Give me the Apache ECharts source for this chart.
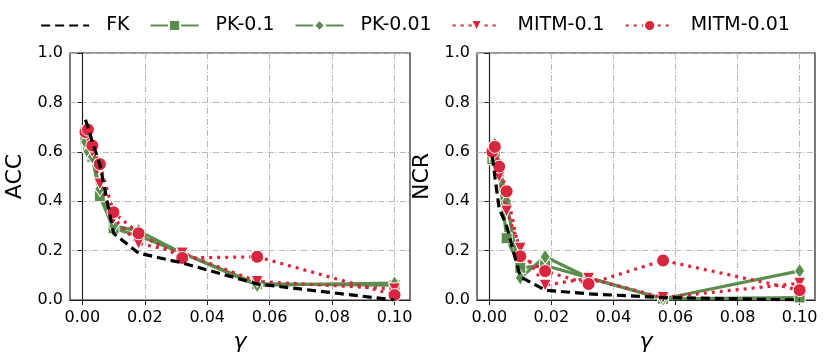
<!DOCTYPE html>
<html>
<head>
<meta charset="utf-8">
<script src="https://cdn.jsdelivr.net/npm/echarts@6/dist/echarts.min.js"></script>
<style>
  html, body { margin: 0; padding: 0; background: #fff; }
  #chart { width: 830px; height: 360px; }
</style>
</head>
<body>
<div id="chart"></div>
<script>
// gamma values (x)
var gammas = [0.001, 0.0018, 0.0032, 0.0056, 0.01, 0.018, 0.032, 0.056, 0.1];
var xTicks = [0, 0.02, 0.04, 0.06, 0.08, 0.1];
var yTicks = [0, 0.2, 0.4, 0.6, 0.8, 1.0];
var seriesNames = ['FK', 'PK-0.1', 'PK-0.01', 'MITM-0.1', 'MITM-0.01'];

// ACC (left panel)
var accFK     = [0.73, 0.70, 0.64, 0.55, 0.27, 0.19, 0.15, 0.065, 0.0];
var accPK1    = [0.65, 0.62, 0.58, 0.42, 0.29, 0.26, 0.19, 0.065, 0.06];
var accPK01   = [0.64, 0.60, 0.58, 0.45, 0.30, 0.28, 0.19, 0.06, 0.068];
var accMITM1  = [0.68, 0.66, 0.60, 0.47, 0.33, 0.23, 0.19, 0.075, 0.045];
var accMITM01 = [0.68, 0.69, 0.625, 0.55, 0.355, 0.27, 0.17, 0.175, 0.02];

// NCR (right panel)
var ncrFK     = [0.58, 0.50, 0.37, 0.30, 0.094, 0.04, 0.025, 0.01, 0.0];
var ncrPK1    = [0.57, 0.58, 0.52, 0.25, 0.13, 0.14, 0.09, 0.005, 0.01];
var ncrPK01   = [0.62, 0.63, 0.55, 0.40, 0.09, 0.175, 0.09, 0.005, 0.118];
var ncrMITM1  = [0.58, 0.60, 0.50, 0.36, 0.21, 0.06, 0.088, 0.01, 0.068];
var ncrMITM01 = [0.60, 0.62, 0.54, 0.44, 0.177, 0.117, 0.065, 0.16, 0.04];

var GREEN = '#5b8e4c', RED = '#d7263d';
var FONT = 'DejaVu Sans';

function pairs(vals) {
  return gammas.map(function (g, i) { return [g, vals[i]]; });
}

var styles = [
  { color: '#000', type: [9, 5], width: 3.2, symbol: 'none', size: 0, z: 5 },
  { color: GREEN, type: 'solid', width: 3.2, symbol: 'rect', size: 11, z: 2 },
  { color: GREEN, type: 'solid', width: 3.2, symbol: 'diamond', size: [10, 15], z: 2 },
  { color: RED, type: [3, 5], width: 3.2, symbol: 'triangle', size: 12, z: 3, rotate: 180 },
  { color: RED, type: [3, 5], width: 3.2, symbol: 'circle', size: 13, z: 3 }
];

function makeSeries(sets, idx) {
  return sets.map(function (vals, i) {
    var s = styles[i];
    return {
      name: seriesNames[i],
      type: 'line',
      xAxisIndex: idx,
      yAxisIndex: idx,
      data: pairs(vals),
      symbol: s.symbol,
      symbolSize: s.size,
      symbolRotate: s.rotate || 0,
      showSymbol: s.symbol !== 'none',
      z: s.z,
      silent: true,
      animation: false,
      lineStyle: { color: s.color, width: s.width, type: s.type },
      itemStyle: { color: s.color, borderColor: '#fff', borderWidth: 1 }
    };
  });
}

var xMin = -0.00395, xMax = 0.10495;
var gridLine = { show: true, lineStyle: { color: '#b8b8b8', type: [6, 2, 1, 2], width: 1 } };

function xAxis(idx) {
  return {
    type: 'value', gridIndex: idx, min: xMin, max: xMax,
    name: 'γ', nameLocation: 'middle', nameGap: 31,
    nameTextStyle: { fontFamily: FONT, fontSize: 22, fontStyle: 'italic', color: '#000' },
    axisLine: { show: true, lineStyle: { color: '#222', width: 1.2 } },
    axisTick: { show: true, length: 5, customValues: xTicks, lineStyle: { color: '#222' } },
    axisLabel: { customValues: xTicks, fontFamily: FONT, fontSize: 16, color: '#000', margin: 10,
      formatter: function (v) { return v.toFixed(2); } },
    splitLine: gridLine
  };
}

function yAxis(idx, name) {
  return {
    type: 'value', gridIndex: idx, min: 0, max: 1, interval: 0.2,
    name: name, nameLocation: 'middle', nameGap: 44, nameRotate: 90,
    nameTextStyle: { fontFamily: FONT, fontSize: 22, color: '#000' },
    axisLine: { show: true, lineStyle: { color: '#222', width: 1.2 } },
    axisTick: { show: true, length: 5, lineStyle: { color: '#222' } },
    axisLabel: { fontFamily: FONT, fontSize: 16, color: '#000', margin: 7,
      formatter: function (v) { return v.toFixed(1); } },
    splitLine: gridLine
  };
}

var chart = echarts.init(document.getElementById('chart'), null, { renderer: 'canvas' });
chart.setOption({
  backgroundColor: '#fff',
  animation: false,
  legend: {
    top: 11, left: 'center', itemWidth: 48, itemHeight: 14, itemGap: 20,
    data: [{ name: 'FK', itemStyle: { opacity: 0 } }, 'PK-0.1', 'PK-0.01', 'MITM-0.1', 'MITM-0.01'],
    textStyle: { fontFamily: FONT, fontSize: 19, color: '#000', padding: [0, 0, 0, 12] }
  },
  grid: [
    { left: 70, top: 53, width: 340, height: 247, show: true, borderColor: '#222', borderWidth: 1.2 },
    { left: 477, top: 53, width: 338, height: 247, show: true, borderColor: '#222', borderWidth: 1.2 }
  ],
  xAxis: [xAxis(0), xAxis(1)],
  yAxis: [yAxis(0, 'ACC'), yAxis(1, 'NCR')],
  series: makeSeries([accFK, accPK1, accPK01, accMITM1, accMITM01], 0)
    .concat(makeSeries([ncrFK, ncrPK1, ncrPK01, ncrMITM1, ncrMITM01], 1))
});
</script>
</body>
</html>
